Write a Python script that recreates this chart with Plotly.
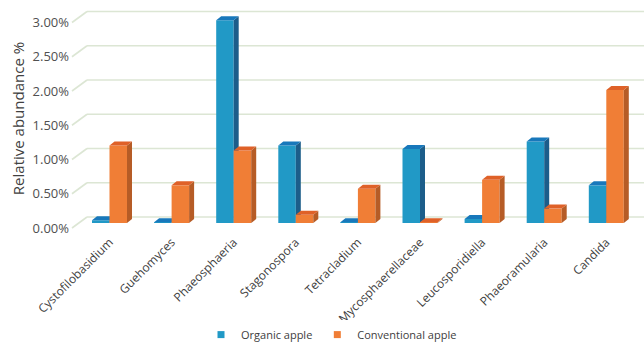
import plotly.graph_objects as go

# Genus-level relative abundance (%), organic vs conventional apple
genera = ["Cystofilobasidium", "Guehomyces", "Phaeosphaeria", "Stagonospora",
          "Tetracladium", "Mycosphaerellaceae", "Leucosporidiella",
          "Phaeoramularia", "Candida"]
organic = [0.04, 0.01, 2.96, 1.13, 0.01, 1.08, 0.06, 1.19, 0.55]
conventional = [1.13, 0.55, 1.06, 0.12, 0.50, 0.01, 0.63, 0.21, 1.94]
ytick_vals = [0, 0.5, 1.0, 1.5, 2.0, 2.5, 3.0]
ytick_text = ["0.00%", "0.50%", "1.00%", "1.50%", "2.00%", "2.50%", "3.00%"]

# Figure geometry (pixels)
W, H = 644, 342
ML, MR, MT, MB = 70, 0, 5, 110
plot_w = W - ML - MR
plot_h = H - MT - MB

# Axis ranges
X0, X1 = -0.636, 8.607
Y0, Y1 = -0.1314, 3.1825
px_x = (X1 - X0) / plot_w   # data units per pixel, x
px_y = (Y1 - Y0) / plot_h   # data units per pixel, y

BAR_W = 17.5 * px_x          # front-face width
DX, DY = 5 * px_x, 4 * px_y  # depth offset of the 3D faces
WALL_DY = 6 * px_y           # back wall is lifted above the front plane
WALL_X = X0 + 17 * px_x      # back wall left edge
FRONT_X = X0 + 2 * px_x      # front edge of the floor
LABEL_DY = 5 * px_y

styles = {
    "organic": dict(front="#2199c6", side="#1c5d8a", top="#1878bb"),
    "conventional": dict(front="#f07e36", side="#b65c26", top="#df6128"),
}

fig = go.Figure()


def add_series(name, values, offset, style, xa, ya):
    xs = list(range(len(values)))
    fig.add_trace(go.Bar(
        x=xs, y=values, name=name, width=BAR_W, offset=offset,
        marker=dict(color=style["front"], line=dict(width=0)),
        xaxis=xa, yaxis=ya, showlegend=False, hoverinfo="name+y",
        legendgroup=name,
    ))
    for i, v in enumerate(values):
        xl = i + offset
        xr = xl + BAR_W
        # right side face
        fig.add_trace(go.Scatter(
            x=[xr, xr, xr + DX, xr + DX, xr], y=[0, v, v + DY, DY, 0],
            fill="toself", fillcolor=style["side"], mode="lines",
            line=dict(width=0, color=style["side"]),
            xaxis=xa, yaxis=ya, showlegend=False, hoverinfo="skip"))
        # top face
        fig.add_trace(go.Scatter(
            x=[xl, xr, xr + DX, xl + DX, xl], y=[v, v, v + DY, v + DY, v],
            fill="toself", fillcolor=style["top"], mode="lines",
            line=dict(width=0, color=style["top"]),
            xaxis=xa, yaxis=ya, showlegend=False, hoverinfo="skip"))
    # legend key: small square swatch in the series colour
    fig.add_trace(go.Scatter(
        x=[None], y=[None], mode="markers", name=name, legendgroup=name,
        marker=dict(symbol="square", size=7, color=style["front"]),
        xaxis=xa, yaxis=ya, showlegend=True, hoverinfo="skip"))


add_series("Organic apple", organic, -BAR_W, styles["organic"], "x", "y")
add_series("Conventional apple", conventional, 0.0, styles["conventional"], "x2", "y2")

# Back-wall gridlines with the slanted floor edge on the left
grid_color = "#dce6d4"
shapes = []
for v in ytick_vals:
    shapes.append(dict(type="line", xref="x", yref="y", layer="below",
                       x0=WALL_X, x1=X1, y0=v + WALL_DY, y1=v + WALL_DY,
                       line=dict(color=grid_color, width=1.6)))
    shapes.append(dict(type="line", xref="x", yref="y", layer="below",
                       x0=FRONT_X, x1=WALL_X, y0=v - LABEL_DY, y1=v + WALL_DY,
                       line=dict(color=grid_color, width=1.6)))

font_family = "Open Sans, DejaVu Sans, sans-serif"
axis_common = dict(showgrid=False, zeroline=False, showline=False, automargin=False)

fig.update_layout(
    width=W, height=H,
    margin=dict(l=ML, r=MR, t=MT, b=MB, pad=0, autoexpand=False),
    paper_bgcolor="white", plot_bgcolor="white",
    font=dict(family=font_family, color="#404040"),
    shapes=shapes,
    barmode="overlay",
    xaxis=dict(range=[X0, X1], tickmode="array",
               tickvals=list(range(len(genera))), ticktext=genera,
               tickangle=-45, ticks="", tickfont=dict(size=12, color="#404040"),
               **axis_common),
    yaxis=dict(range=[Y0, Y1], tickmode="array", tickvals=ytick_vals,
               ticktext=ytick_text, ticks="", ticklabelshift=5,
               tickfont=dict(size=13, color="#505050"),
               title=dict(text="Relative abundance %", standoff=4,
                          font=dict(size=15, color="#404040")),
               **axis_common),
    xaxis2=dict(range=[X0, X1], overlaying="x", matches="x", visible=False,
                **axis_common),
    yaxis2=dict(range=[Y0, Y1], overlaying="y", matches="y", visible=False,
                **axis_common),
    legend=dict(orientation="h", x=(201 - ML) / plot_w, xanchor="left",
                y=-0.452, yanchor="middle", font=dict(size=11, color="#404040"),
                itemwidth=30, traceorder="normal"),
    showlegend=True,
)

fig.write_html("out.html")
